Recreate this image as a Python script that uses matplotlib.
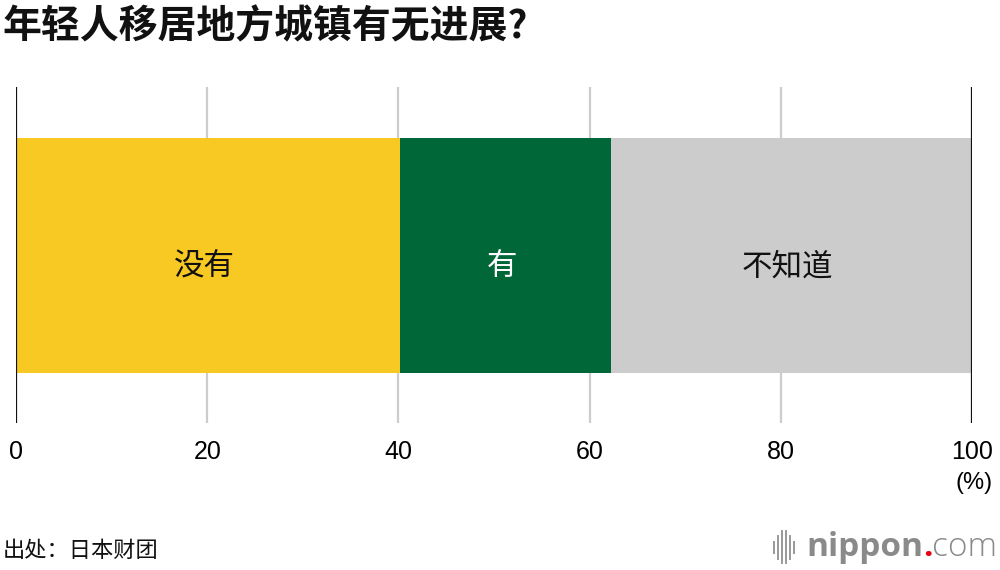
import matplotlib
matplotlib.use("Agg")
import matplotlib.pyplot as plt

categories = ["没有", "有", "不知道"]
values = [40.2, 22.0, 37.8]
colors = ["#F8C922", "#006838", "#CCCCCC"]
text_colors = ["#111111", "#FFFFFF", "#111111"]
ticks = [0, 20, 40, 60, 80, 100]
tick_labels = ["0", "20", "40", "60", "80", "100"]

cjk = ["Noto Sans CJK SC", "DejaVu Sans"]

fig = plt.figure(figsize=(10, 5.7), dpi=100)
ax = fig.add_axes([0.016, 0.258, 0.956, 0.589])
ax.set_xlim(0, 100)
ax.set_ylim(-0.5, 0.5)

for t in ticks:
    if t in (0, 100):
        ax.axvline(t, color="#111111", lw=1.6, zorder=3)
    else:
        ax.axvline(t, color="#CCCCCC", lw=1.6, zorder=0)

left = 0
for cat, v, c, tc in zip(categories, values, colors, text_colors):
    ax.barh(0, v, left=left, height=0.7, color=c, zorder=2)
    ax.text(left + v / 2 - 0.4, -0.035, cat, ha="center", va="center", fontsize=22,
            fontweight="medium", color=tc, family=cjk, zorder=4)
    left += v

ax.set_xticks(ticks)
ax.set_xticklabels(tick_labels, fontsize=18, family="Liberation Sans")
ax.tick_params(axis="x", length=0, pad=12)
ax.set_yticks([])
for s in ax.spines.values():
    s.set_visible(False)

fig.text(0.974, 0.152, "(%)", ha="center", va="center", fontsize=17, family="Liberation Sans")

fig.text(0.003, 0.953, "年轻人移居地方城镇有无进展?", ha="left", va="center",
         fontsize=28, fontweight="heavy", family=cjk, color="#111111")

fig.text(0.003, 0.035, "出处：日本财团", ha="left", va="center", fontsize=16,
         family=cjk, color="#111111")

# logo
bars_x = [0.774, 0.778, 0.782, 0.786, 0.790, 0.794]
bars_h = [0.010, 0.020, 0.028, 0.028, 0.020, 0.010]
for bx, bh in zip(bars_x, bars_h):
    fig.add_artist(plt.Line2D([bx, bx], [0.040 - bh, 0.040 + bh], color="#999999", lw=1.4))
t1 = fig.text(0.806, 0.040, "nippon", ha="left", va="center", fontsize=24,
              fontweight="bold", family="Open Sans", color="#8A8A8A")
fig.canvas.draw()
bb = t1.get_window_extent()
x2 = bb.x1 / fig.bbox.width
t2 = fig.text(x2, 0.040, ".", ha="left", va="center", fontsize=24,
              fontweight="bold", family="Open Sans", color="#E60012")
fig.canvas.draw()
bb2 = t2.get_window_extent()
x3 = bb2.x1 / fig.bbox.width
fig.text(x3, 0.040, "com", ha="left", va="center", fontsize=24,
         fontweight="light", family="Open Sans", color="#8A8A8A")

fig.savefig("out.png", dpi=100)
